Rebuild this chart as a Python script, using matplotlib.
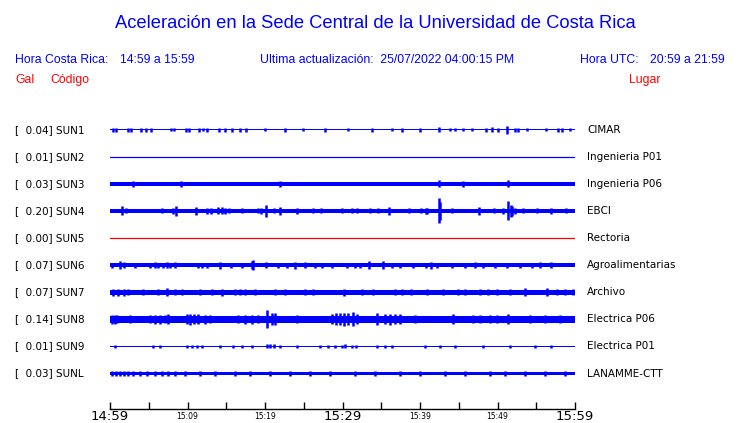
import matplotlib
matplotlib.use('Agg')
import matplotlib.pyplot as plt
from matplotlib.ticker import FixedLocator, FixedFormatter

# trace metadata
codes = ['SUN1', 'SUN2', 'SUN3', 'SUN4', 'SUN5', 'SUN6', 'SUN7', 'SUN8', 'SUN9', 'SUNL']
gal = [0.04, 0.01, 0.03, 0.20, 0.00, 0.07, 0.07, 0.14, 0.01, 0.03]
places = ['CIMAR', 'Ingenieria P01', 'Ingenieria P06', 'EBCI', 'Rectoria',
          'Agroalimentarias', 'Archivo', 'Electrica P06', 'Electrica P01', 'LANAMME-CTT']
colors = ['blue', 'blue', 'blue', 'blue', 'red', 'blue', 'blue', 'blue', 'blue', 'blue']

# background noise half-width of each trace (px)
noise = [0.7, 0.5, 2.2, 2.0, 0.5, 1.7, 2.3, 3.3, 0.7, 1.4]

# bursts: (minutes after 14:59, half-height in px)
bursts = {
    'SUN1': [(0.4, 2), (0.8, 2), (2.3, 2), (2.7, 2), (4.0, 2), (4.6, 2), (5.3, 2), (7.9, 1.5),
             (8.3, 1.5), (9.8, 2), (10.2, 2), (11.5, 2), (12.0, 1.5), (12.5, 2), (14.1, 2),
             (14.8, 2), (15.7, 2), (16.8, 2), (17.5, 2), (20.0, 1.5), (22.6, 2), (24.9, 1.5),
             (27.7, 2), (30.7, 1.5), (33.8, 2), (36.4, 1.5), (37.7, 2), (40.0, 2), (42.5, 2.5),
             (43.9, 1.5), (44.5, 1.5), (45.5, 1.5), (46.7, 1.5), (48.5, 2), (49.3, 2.5),
             (50.1, 2), (51.2, 4), (52.3, 2), (52.6, 2), (53.8, 1.5), (56.3, 1.5), (57.8, 2),
             (58.3, 2), (59.4, 1.5)],
    'SUN2': [],
    'SUN3': [(3.0, 3), (9.2, 3), (21.9, 3), (42.5, 3.5), (45.5, 2.8), (51.4, 3.5)],
    'SUN4': [(1.5, 4.5), (2.1, 2.5), (6.7, 2.5), (8.1, 3), (8.5, 5), (11.1, 4), (12.5, 3),
             (13.0, 3), (13.9, 3.5), (14.5, 3.5), (14.8, 3), (15.4, 2.5), (17.0, 2.5),
             (19.1, 2.5), (19.5, 3), (20.1, 6), (21.2, 2.5), (21.9, 4), (24.1, 3), (26.2, 2.5),
             (27.2, 2.5), (29.9, 2.5), (31.2, 2.5), (31.9, 2.5), (33.5, 2.5), (34.6, 2.5),
             (36.0, 4), (38.6, 2.5), (40.1, 2.5), (40.8, 3), (40.9, 3), (42.5, 12.5),
             (42.6, 9), (44.1, 2.5), (47.6, 4), (49.5, 2.5), (50.7, 3), (51.4, 9.5),
             (51.7, 6), (51.9, 5), (52.3, 3), (53.3, 2.5), (55.1, 2.5), (56.9, 3), (58.8, 2.5)],
    'SUN5': [],
    'SUN6': [(0.3, 2.5), (1.3, 4), (1.8, 3), (3.2, 2.5), (5.2, 2.5), (5.8, 3), (6.2, 2.5),
             (6.8, 2.5), (7.4, 3), (7.7, 2.5), (8.4, 3), (11.4, 2.5), (11.9, 2.5), (12.5, 2.5),
             (14.2, 3.5), (15.6, 2.5), (17.0, 2.5), (18.3, 4), (18.5, 5), (20.1, 3),
             (21.7, 2.5), (22.8, 2.5), (23.9, 3.5), (25.2, 3), (26.5, 2.5), (27.4, 2.5),
             (28.6, 2.5), (30.6, 2.5), (31.6, 2.5), (32.3, 2.5), (33.4, 4), (35.2, 4),
             (36.4, 2.5), (37.4, 2.5), (39.1, 2.5), (40.8, 2.5), (41.4, 3.5), (42.2, 2.5),
             (44.1, 2.5), (45.8, 2.5), (47.1, 3), (48.1, 2.5), (49.7, 2.5), (51.2, 2.5),
             (52.9, 2.5), (54.5, 2.5), (55.5, 3), (56.9, 3)],
    'SUN7': [(0.4, 3.5), (1.0, 3.5), (1.8, 3.5), (2.3, 3), (4.3, 3), (6.2, 3), (7.4, 4),
             (8.4, 3), (9.3, 3), (11.6, 3), (13.2, 3), (14.5, 3.5), (16.1, 3), (16.8, 3),
             (17.4, 3), (18.7, 3), (21.3, 3), (22.6, 3), (25.2, 3), (26.2, 3), (30.2, 3.5),
             (32.5, 3), (33.9, 3), (36.8, 3), (37.7, 3), (38.8, 3), (40.9, 3), (43.0, 3),
             (44.9, 3), (45.8, 3), (47.7, 3), (48.8, 3), (49.9, 3), (51.6, 3), (53.5, 4),
             (56.4, 4), (57.7, 3), (58.7, 3), (59.7, 3)],
    'SUN8': [(0.3, 4.5), (0.6, 4.5), (0.9, 4), (2.6, 4), (5.2, 4), (5.8, 4.5), (6.5, 4.5),
             (7.1, 4), (7.5, 5), (9.9, 5), (10.3, 5.5), (10.8, 5), (11.4, 5), (12.3, 4.5),
             (12.9, 4), (16.5, 4), (17.4, 4.5), (18.3, 4.5), (19.1, 4), (20.3, 9), (20.9, 6),
             (21.3, 6), (24.1, 4), (28.6, 5), (29.2, 6), (29.7, 6), (30.2, 6.5), (30.7, 6),
             (31.4, 7), (31.9, 5), (34.5, 6), (35.5, 5), (36.1, 5.5), (36.8, 5), (37.4, 5),
             (39.4, 4), (44.3, 5), (46.8, 4), (47.7, 4), (49.0, 4), (49.9, 4), (51.4, 5),
             (54.2, 4), (56.1, 4), (58.1, 4)],
    'SUN9': [(0.6, 1.5), (5.5, 1.5), (6.5, 1.8), (9.9, 1.5), (10.6, 1.5), (11.2, 1.5),
             (11.9, 1.5), (14.2, 1.5), (15.9, 1.2), (17.0, 1.5), (18.3, 1.5), (20.3, 2),
             (20.6, 2), (21.2, 2), (21.9, 1.5), (24.1, 1.5), (27.1, 1.5), (28.1, 1.5),
             (29.0, 1.5), (29.9, 1.5), (30.3, 2), (31.2, 1.5), (31.7, 1.5), (34.5, 1.5),
             (35.5, 1.5), (36.4, 1.5), (40.6, 1.5), (42.6, 1.5), (44.5, 1.5), (48.1, 1.5),
             (51.6, 1.5), (54.8, 1.2), (56.9, 1.5)],
    'SUNL': [(0.3, 2.2), (0.8, 2.5), (1.3, 2.5), (1.8, 2.8), (2.3, 2.5), (3.0, 2.2),
             (3.9, 2.2), (4.8, 2.5), (5.8, 2.2), (6.7, 2.2), (7.5, 2.2), (8.4, 2.2),
             (9.7, 2.2), (11.6, 2.2), (13.5, 2.2), (16.1, 2.2), (18.1, 2.2), (20.6, 2.2),
             (23.2, 2.2), (25.8, 2.2), (28.4, 2.2), (31.6, 2.2), (34.2, 2.5), (37.4, 2.2),
             (40.0, 2.2), (43.2, 2.2), (45.8, 2.5), (49.0, 2.2), (51.0, 2.5), (53.5, 2.2),
             (56.1, 2.2), (58.7, 2.2)],
}

# time axis
tick_minutes = list(range(0, 61, 5))
major_minutes = [0, 30, 60]
major_labels = ['14:59', '15:29', '15:59']
minor_minutes = [m for m in tick_minutes if m not in major_minutes]
minor_labels = {10: '15:09', 20: '15:19', 40: '15:39', 50: '15:49'}

W, H = 740, 423
fig = plt.figure(figsize=(W / 100, H / 100), dpi=100)

def fx(px):
    return px / W

def fy(py):
    return 1 - py / H

hfont = ['Liberation Sans', 'DejaVu Sans']
fig.text(fx(375.5), fy(23), 'Aceleración en la Sede Central de la Universidad de Costa Rica',
         color='blue', fontsize=13.2, family=hfont, ha='center', va='center')
fig.text(fx(15), fy(60), 'Hora Costa Rica:', color='blue', fontsize=8.8, family=hfont, va='center')
fig.text(fx(120), fy(60), '14:59 a 15:59', color='blue', fontsize=8.8, family=hfont, va='center')
fig.text(fx(260), fy(60), 'Ultima actualización:  25/07/2022 04:00:15 PM', color='blue',
         fontsize=8.8, family=hfont, va='center')
fig.text(fx(580), fy(60), 'Hora UTC:', color='blue', fontsize=8.8, family=hfont, va='center')
fig.text(fx(725), fy(60), '20:59 a 21:59', color='blue', fontsize=8.8, family=hfont,
         va='center', ha='right')
fig.text(fx(15), fy(80), 'Gal', color='red', fontsize=8.8, family=hfont, va='center')
fig.text(fx(50), fy(80), 'Código', color='red', fontsize=8.8, family=hfont, va='center')
fig.text(fx(629), fy(80), 'Lugar', color='red', fontsize=8.8, family=hfont, va='center')

# axes in pixel rows so amplitudes read straight as px
top, bottom = 112, 409
ax = fig.add_axes([fx(110), fy(bottom), fx(575) - fx(110), (bottom - top) / H])
ax.set_xlim(0, 60)
ax.set_ylim(bottom, top)

for i, code in enumerate(codes):
    yc = 129.6 + 27.1 * i
    c = colors[i]
    if noise[i] <= 0.5:
        ax.plot([0, 60], [yc, yc], color=c, lw=0.9)
    else:
        ax.fill_between([0, 60], yc - noise[i], yc + noise[i], color=c, lw=0)
    if bursts[code]:
        t = [b[0] for b in bursts[code]]
        a = [b[1] for b in bursts[code]]
        ax.vlines(t, [yc - v for v in a], [yc + v for v in a], color=c, lw=1.8)
    fig.text(fx(15), fy(yc), '[  %.2f] %s' % (gal[i], code), fontsize=7.5, va='center')
    fig.text(fx(587), fy(yc), places[i], fontsize=7.5, va='center')

for s in ['top', 'left', 'right']:
    ax.spines[s].set_visible(False)
ax.spines['bottom'].set_linewidth(1)
ax.set_yticks([])
ax.xaxis.set_major_locator(FixedLocator(major_minutes))
ax.xaxis.set_major_formatter(FixedFormatter(major_labels))
ax.xaxis.set_minor_locator(FixedLocator(minor_minutes))
ax.xaxis.set_minor_formatter(FixedFormatter([minor_labels.get(m, '') for m in minor_minutes]))
ax.tick_params(axis='x', which='both', direction='in', length=5, width=1, pad=1)
ax.tick_params(axis='x', which='major', labelsize=9.5, pad=0.5)
ax.tick_params(axis='x', which='minor', labelsize=5.5, pad=2.5)

fig.savefig('out.png', dpi=100)
